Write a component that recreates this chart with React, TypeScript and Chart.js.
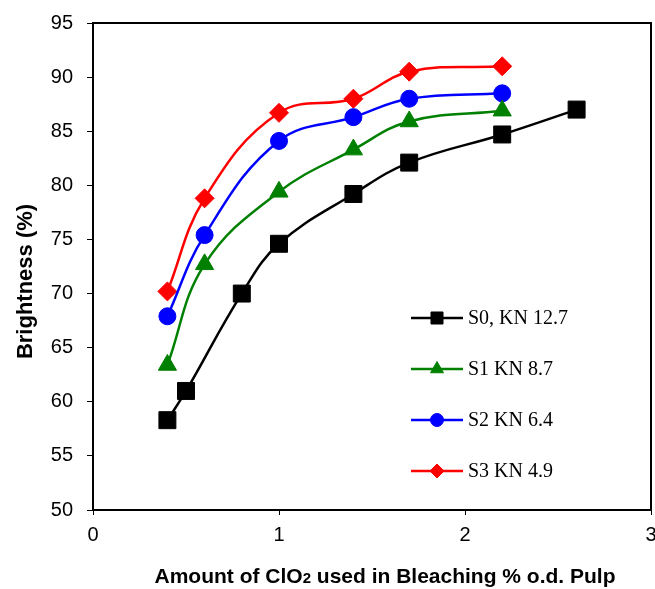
import React, { useEffect, useRef } from 'react';
import { Chart, registerables } from 'chart.js';
import { drawPoint } from 'chart.js/helpers';

Chart.register(...registerables);

const s0X = [0.4, 0.5, 0.8, 1.0, 1.4, 1.7, 2.2, 2.6];
const s0Y = [58.3, 61.0, 70.0, 74.6, 79.2, 82.1, 84.7, 87.0];
const s1X = [0.4, 0.6, 1.0, 1.4, 1.7, 2.2];
const s1Y = [63.4, 72.7, 79.4, 83.3, 85.9, 86.9];
const s2X = [0.4, 0.6, 1.0, 1.4, 1.7, 2.2];
const s2Y = [67.9, 75.4, 84.1, 86.3, 88.0, 88.5];
const s3X = [0.4, 0.6, 1.0, 1.4, 1.7, 2.2];
const s3Y = [70.2, 78.8, 86.7, 88.0, 90.5, 91.0];

const seriesLabels = ['S0, KN 12.7', 'S1 KN 8.7', 'S2 KN 6.4', 'S3 KN 4.9'];
const seriesColors = ['#000000', '#008000', '#0000ff', '#ff0000'];
const seriesStyles = ['rect', 'triangle', 'circle', 'rectRot'];
const seriesRadius = [12, 10.5, 8.5, 9.5];
const legendRadius = [8.5, 7.5, 6.5, 7];

const xMin = 0, xMax = 3, xStep = 1;
const yMin = 50, yMax = 95, yStep = 5;

const xTitleParts = ['Amount of ClO', '2', ' used in Bleaching % o.d. Pulp'];
const yTitle = 'Brightness (%)';

const SANS = '"Liberation Sans", Arial, sans-serif';
const SERIF = '"Liberation Serif", "Times New Roman", serif';

function pts(xs: number[], ys: number[]) {
  return xs.map((x, i) => ({ x, y: ys[i] }));
}

const decorPlugin = {
  id: 'decor',
  afterDraw(chart: any) {
    const ctx = chart.ctx;
    const a = chart.chartArea;
    ctx.save();
    // box
    ctx.strokeStyle = '#000';
    ctx.lineWidth = 2;
    ctx.strokeRect(a.left, a.top, a.right - a.left, a.bottom - a.top);

    // y title
    ctx.fillStyle = '#000';
    ctx.font = `bold 22px ${SANS}`;
    ctx.textAlign = 'center';
    ctx.textBaseline = 'middle';
    ctx.save();
    ctx.translate(26, (a.top + a.bottom) / 2 + 15);
    ctx.rotate(-Math.PI / 2);
    ctx.fillText(yTitle, 0, 0);
    ctx.restore();

    // x title with subscript
    const bigFont = `bold 21px ${SANS}`;
    const smallFont = `bold 15px ${SANS}`;
    ctx.textAlign = 'left';
    ctx.textBaseline = 'alphabetic';
    ctx.font = bigFont;
    const w0 = ctx.measureText(xTitleParts[0]).width;
    const w2 = ctx.measureText(xTitleParts[2]).width;
    ctx.font = smallFont;
    const w1 = ctx.measureText(xTitleParts[1]).width;
    const total = w0 + w1 + w2;
    const cx = (a.left + a.right) / 2 + 13;
    let x = cx - total / 2;
    const baseY = 583;
    ctx.font = bigFont;
    ctx.fillText(xTitleParts[0], x, baseY);
    x += w0;
    ctx.font = smallFont;
    ctx.fillText(xTitleParts[1], x, baseY);
    x += w1;
    ctx.font = bigFont;
    ctx.fillText(xTitleParts[2], x, baseY);

    // legend
    const lx0 = 411, lx1 = 463, tx = 468;
    const rows = [318, 369, 420, 471];
    for (let i = 0; i < seriesLabels.length; i++) {
      const y = rows[i];
      ctx.strokeStyle = seriesColors[i];
      ctx.lineWidth = 2.5;
      ctx.beginPath();
      ctx.moveTo(lx0, y);
      ctx.lineTo(lx1, y);
      ctx.stroke();
      ctx.fillStyle = seriesColors[i];
      ctx.strokeStyle = seriesColors[i];
      ctx.lineWidth = 1;
      drawPoint(ctx, { pointStyle: seriesStyles[i], radius: legendRadius[i], rotation: 0, borderWidth: 1 }, (lx0 + lx1) / 2, y);
      ctx.fillStyle = '#000';
      ctx.font = `20px ${SERIF}`;
      ctx.textAlign = 'left';
      ctx.textBaseline = 'middle';
      ctx.fillText(seriesLabels[i], tx, y + 1);
    }
    ctx.restore();
  },
};

export default function App() {
  const ref = useRef<HTMLCanvasElement | null>(null);

  useEffect(() => {
    const prevMargin = document.body.style.margin;
    document.body.style.margin = '0';
    const datasets = [
      pts(s0X, s0Y),
      pts(s1X, s1Y),
      pts(s2X, s2Y),
      pts(s3X, s3Y),
    ].map((data, i) => ({
      label: seriesLabels[i],
      data,
      borderColor: seriesColors[i],
      backgroundColor: seriesColors[i],
      pointStyle: seriesStyles[i] as any,
      pointRadius: seriesRadius[i],
      pointHoverRadius: seriesRadius[i],
      pointBorderWidth: 1,
      borderWidth: 2.5,
      tension: 0.4,
      showLine: true,
      fill: false,
    }));

    const chart = new Chart(ref.current as HTMLCanvasElement, {
      type: 'scatter',
      data: { datasets },
      plugins: [decorPlugin],
      options: {
        animation: false,
        responsive: false,
        devicePixelRatio: 1,
        layout: { autoPadding: false, padding: { top: 23, right: 4, left: 0, bottom: 0 } },
        plugins: {
          legend: { display: false },
          tooltip: { enabled: false },
          title: { display: false },
        },
        scales: {
          x: {
            type: 'linear',
            min: xMin,
            max: xMax,
            ticks: {
              stepSize: xStep,
              color: '#000',
              font: { family: SANS, size: 20 },
              padding: 8,
              maxRotation: 0,
            },
            grid: { drawOnChartArea: false, drawTicks: true, tickLength: 5, color: '#000', lineWidth: 1 },
            border: { display: true, color: '#000', width: 2 },
            afterFit: (axis: any) => {
              axis.height = 79;
              axis.paddingLeft = 0;
              axis.paddingRight = 0;
            },
          },
          y: {
            type: 'linear',
            min: yMin,
            max: yMax,
            ticks: {
              stepSize: yStep,
              color: '#000',
              font: { family: SANS, size: 20 },
              padding: 14,
            },
            grid: { drawOnChartArea: false, drawTicks: true, tickLength: 6, color: '#000', lineWidth: 1 },
            border: { display: true, color: '#000', width: 2 },
            afterFit: (axis: any) => {
              axis.width = 93;
              axis.paddingTop = 0;
              axis.paddingBottom = 0;
            },
          },
        },
      },
    });
    return () => {
      chart.destroy();
      document.body.style.margin = prevMargin;
    };
  }, []);

  return (
    <div style={{ position: 'absolute', left: 0, top: 0, width: 655, height: 589, background: '#fff' }}>
      <canvas ref={ref} width={655} height={589} style={{ display: 'block', width: 655, height: 589 }} />
    </div>
  );
}
